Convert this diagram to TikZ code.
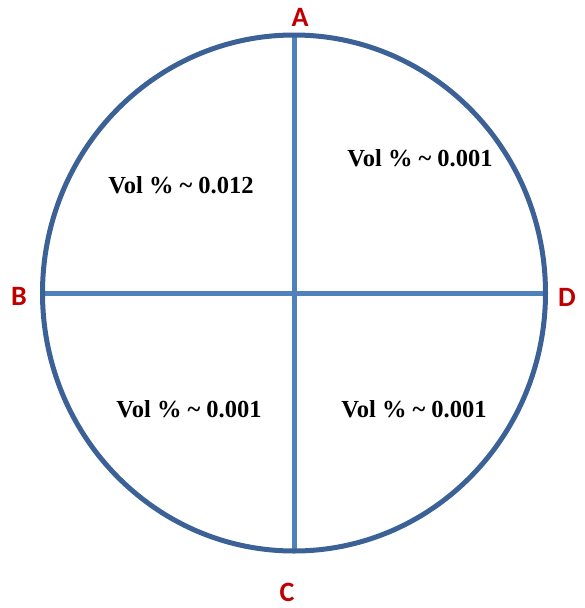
\documentclass[tikz,border=0pt]{standalone}
\usepackage{fontspec}
\setmainfont{Liberation Serif}
\newfontfamily\lblfont{Carlito}
\definecolor{rimblue}{HTML}{3B6196}
\definecolor{crossblue}{HTML}{4F81BD}
\definecolor{lblred}{HTML}{C00000}
\begin{document}
\begin{tikzpicture}[x=1pt,y=-1pt,
  rim/.style={draw=rimblue,line width=5pt},
  cross/.style={draw=crossblue,line width=5pt},
  pointlbl/.style={text=lblred,font=\lblfont\bfseries\fontsize{28}{30}\selectfont,inner sep=0pt},
  vol/.style={font=\bfseries\fontsize{24.5}{27}\selectfont,inner sep=0pt}]
\useasboundingbox (0,0) rectangle (584,608);
\coordinate (O) at (294,293);
\coordinate (pA) at (294,35);
\coordinate (pC) at (294,551);
\coordinate (pB) at (42.5,293);
\coordinate (pD) at (545.5,293);
\draw[cross] (pA) -- (pC);
\draw[cross] (pB) -- (pD);
\draw[rim] (O) ellipse [x radius=251.5, y radius=258];
\node[pointlbl] (A) at (300,17) {A};
\node[pointlbl] (B) at (19,296) {B};
\node[pointlbl] (D) at (567,297) {D};
\node[pointlbl] (C) at (287,592) {C};
\node[vol] (q1) at (181,185) {Vol \% \char`\~\ 0.012};
\node[vol] (q2) at (420,158) {Vol \% \char`\~\ 0.001};
\node[vol] (q3) at (189,409) {Vol \% \char`\~\ 0.001};
\node[vol] (q4) at (414,409) {Vol \% \char`\~\ 0.001};
\end{tikzpicture}
\end{document}
